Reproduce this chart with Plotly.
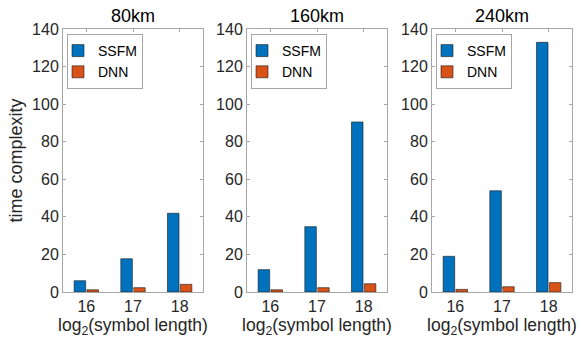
import plotly.graph_objects as go

categories = [16, 17, 18]
titles = ["80km", "160km", "240km"]
ssfm = [
    [6.0, 17.7, 41.9],
    [11.9, 34.8, 90.5],
    [19.0, 53.9, 132.9],
]
dnn = [
    [1.2, 2.3, 4.1],
    [1.2, 2.3, 4.4],
    [1.4, 2.8, 5.0],
]
y_ticks = [0, 20, 40, 60, 80, 100, 120, 140]

W, H = 582, 345
blue = "#0072BD"
orange = "#D95319"
txt = "#262626"
axc = "#a6a6a6"
font_family = "Liberation Sans, Arial, sans-serif"

x_px = [(63, 203), (247, 387), (432, 572)]
y_dom = [1 - 292 / H, 1 - 29 / H]

fig = go.Figure()
for i in range(3):
    xa = "x" if i == 0 else f"x{i+1}"
    ya = "y" if i == 0 else f"y{i+1}"
    lg = "legend" if i == 0 else f"legend{i+1}"
    fig.add_trace(go.Bar(x=categories, y=ssfm[i], name="SSFM", marker=dict(color=blue, line=dict(color="#1a1a1a", width=0.6)),
                         xaxis=xa, yaxis=ya, legend=lg))
    fig.add_trace(go.Bar(x=categories, y=dnn[i], name="DNN", marker=dict(color=orange, line=dict(color="#1a1a1a", width=0.6)),
                         xaxis=xa, yaxis=ya, legend=lg))

layout = dict(
    template="none",
    width=W, height=H,
    margin=dict(l=0, r=0, t=0, b=0, autoexpand=False),
    paper_bgcolor="white", plot_bgcolor="white",
    barmode="group", bargap=0.45, bargroupgap=0.1,
    font=dict(family=font_family, color=txt, size=16),
    showlegend=True,
)
annotations = []
for i in range(3):
    sfx = "" if i == 0 else str(i + 1)
    x0, x1 = x_px[i]
    dom = [x0 / W, x1 / W]
    layout["xaxis" + sfx] = dict(
        domain=dom, anchor="y" + sfx, range=[15.5, 18.5], automargin=False,
        tickvals=categories, ticktext=[str(c) for c in categories],
        ticks="inside", ticklen=3, tickcolor=axc,
        showline=True, linecolor=axc, linewidth=1, mirror="ticks",
        showgrid=False, zeroline=False,
        tickfont=dict(family=font_family, size=16, color=txt),
        title=dict(text="log<sub>2</sub>(symbol length)", font=dict(family=font_family, size=17.5, color=txt), standoff=2),
    )
    layout["yaxis" + sfx] = dict(
        domain=y_dom, anchor="x" + sfx, range=[0, 140], automargin=False,
        tickvals=y_ticks, ticks="inside", ticklen=3, tickcolor=axc,
        showline=True, linecolor=axc, linewidth=1, mirror="ticks",
        showgrid=False, zeroline=False,
        tickfont=dict(family=font_family, size=16, color=txt),
    )
    lgkey = "legend" if i == 0 else f"legend{i+1}"
    layout[lgkey] = dict(
        x=(x0 + 4) / W, y=1 - 34 / H, xanchor="left", yanchor="top",
        xref="paper", yref="paper",
        bgcolor="white", bordercolor=axc, borderwidth=1,
        font=dict(family=font_family, size=14, color="black"), tracegroupgap=0,
        itemwidth=30, indentation=-10,
    )
    annotations.append(dict(
        text=titles[i], x=(x0 + x1) / 2 / W, y=1 - 16 / H, xref="paper", yref="paper",
        xanchor="center", yanchor="middle", showarrow=False,
        font=dict(family=font_family, size=18, color="black"),
    ))
layout["yaxis"]["title"] = dict(text="time complexity", font=dict(family=font_family, size=18, color=txt), standoff=4)
layout["annotations"] = annotations
fig.update_layout(**layout)
fig.write_html("out.html", config={"displayModeBar": False},
               post_script="document.body.style.margin='0';document.body.style.overflow='hidden';")
